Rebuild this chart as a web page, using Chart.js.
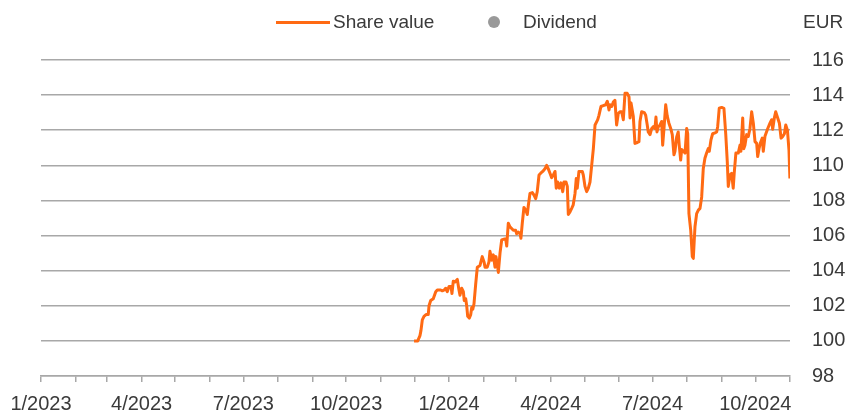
<!DOCTYPE html>
<html>
<head>
<meta charset="utf-8">
<title>Share value</title>
<script src="https://cdn.jsdelivr.net/npm/chart.js@4.4.1/dist/chart.umd.min.js"></script>
<style>
    html, body { margin: 0; padding: 0; background: #fff; }
    #wrap { position: relative; width: 849px; height: 412px; font-family: "Liberation Sans", Arial, sans-serif; color: #3a3a3a; font-size: 19px; }
    #chart { position: absolute; left: 0; top: 0; }
    .lg { position: absolute; top: 11px; line-height: 22px; white-space: nowrap; }
    .lg-line { position: absolute; left: 276px; top: 21px; width: 54px; height: 3px; background: #ff6a13; }
    .lg-dot { position: absolute; left: 488px; top: 16px; width: 12px; height: 12px; border-radius: 50%; background: #999; }
</style>
</head>
<body>
<div id="wrap">
    <canvas id="chart" width="849" height="412"></canvas>
    <div class="lg-line"></div>
    <div class="lg" style="left:333px">Share value</div>
    <div class="lg-dot"></div>
    <div class="lg" style="left:523px">Dividend</div>
    <div class="lg" style="left:803px">EUR</div>
</div>
<script>
// ---------------- DATA ----------------
// x = days since 1 Jan 2023
const days = [
    333.7, 337.0, 339.0, 339.9, 341.1, 342.6, 344.4, 346.4, 347.1, 348.6,
    350.9, 353.1, 354.5, 357.5, 359.0, 360.8, 362.0, 363.4, 365.0, 366.8,
    367.6, 368.8, 370.3, 372.4, 373.9, 374.8, 376.3, 377.8, 378.6, 379.9,
    380.8, 381.7, 383.1, 384.4, 385.3, 386.2, 387.3, 388.8, 390.3, 392.7,
    394.7, 396.3, 397.2, 399.2, 400.7, 401.6, 403.2, 404.6, 406.1, 407.0,
    408.5, 409.1, 410.6, 412.1, 414.2, 415.7, 416.6, 418.0, 419.5, 421.0,
    422.5, 424.6, 425.5, 427.0, 428.5, 429.3, 430.5, 432.0, 433.6, 435.0,
    435.9, 437.4, 439.5, 441.0, 442.5, 443.9, 445.5, 447.0, 448.8, 450.8,
    452.3, 453.8, 455.3, 456.8, 458.3, 459.8, 460.9, 462.2, 463.6, 465.1,
    466.7, 467.8, 469.6, 470.8, 471.7, 473.2, 474.7, 476.1, 477.7, 478.8,
    479.7, 481.2, 484.2, 485.1, 486.6, 488.1, 489.6, 491.1, 492.6, 494.1,
    495.6, 498.0, 499.1, 500.9, 503.0, 505.1, 506.6, 508.1, 509.0, 510.5,
    511.9, 513.4, 514.9, 516.4, 517.9, 519.4, 520.9, 522.4, 524.4, 526.0,
    526.9, 527.8, 529.8, 531.3, 533.4, 534.9, 535.8, 537.3, 539.7, 540.9,
    542.3, 543.2, 544.8, 546.3, 547.7, 549.2, 550.1, 551.0, 552.2, 553.7,
    555.2, 556.1, 557.3, 558.8, 560.2, 561.7, 563.3, 564.7, 566.2, 567.1,
    568.6, 570.0, 570.9, 572.2, 573.1, 574.5, 576.1, 577.6, 578.5, 579.6,
    581.2, 582.6, 583.5, 585.0, 586.5, 588.0, 589.5, 591.0, 592.4, 593.9,
    595.4, 596.9, 597.8, 599.3, 600.8, 602.9, 604.4, 605.3, 606.7, 608.9,
    610.9, 612.5, 613.9, 614.8, 616.3, 617.8, 619.2, 620.1, 621.6, 623.7,
    625.3, 626.1, 627.7, 628.6, 629.7, 631.2, 632.7, 634.2, 635.7, 637.2,
    638.7, 640.2, 641.1, 642.3, 643.4, 645.2, 646.1, 647.6, 650.1, 652.1,
    653.6, 654.5, 656.0, 657.2, 659.0, 660.5, 662.0, 663.5, 665.0, 666.2,
    667.7, 669.1, 669.9
];

const shareValue = [
    100.0, 100.0, 100.3, 100.6, 101.2, 101.4, 101.5, 101.5, 102.0, 102.3,
    102.4, 102.8, 102.9, 102.9, 102.85, 102.9, 103.0, 102.8, 103.1, 103.1,
    102.7, 103.4, 103.35, 103.5, 102.9, 102.6, 103.0, 102.8, 102.3, 102.4,
    102.0, 101.4, 101.3, 101.5, 101.9, 101.8, 102.1, 103.2, 104.2, 104.3,
    104.8, 104.5, 104.2, 104.2, 104.5, 105.1, 104.6, 104.9, 104.2, 104.8,
    104.2, 103.9, 105.0, 105.75, 105.8, 105.8, 105.4, 106.7, 106.5, 106.4,
    106.3, 106.3, 106.1, 106.2, 106.1, 105.85, 106.7, 107.6, 107.45, 107.2,
    107.7, 108.4, 108.45, 108.3, 108.1, 108.5, 109.45, 109.55, 109.65, 109.8,
    110.0, 109.8, 109.55, 109.3, 109.45, 109.65, 108.7, 109.05, 108.7, 109.0,
    108.5, 109.05, 109.05, 108.8, 107.2, 107.35, 107.55, 107.75, 108.4, 109.25,
    108.7, 109.65, 109.65, 109.45, 108.8, 108.5, 108.7, 109.05, 110.0, 110.95,
    112.3, 112.6, 112.85, 113.35, 113.4, 113.45, 113.65, 113.15, 113.45, 113.35,
    113.6, 113.7, 112.3, 112.95, 113.05, 113.05, 112.6, 114.1, 114.1, 113.9,
    112.7, 113.55, 112.8, 111.25, 111.3, 111.35, 112.5, 113.05, 113.0, 112.85,
    112.3, 111.9, 111.75, 112.1, 112.2, 112.1, 112.75, 111.9, 112.2, 112.3,
    112.5, 111.15, 112.1, 113.45, 112.8, 112.4, 112.1, 111.75, 110.6, 110.8,
    111.6, 111.9, 111.15, 110.3, 110.9, 110.8, 110.7, 112.1, 111.8, 107.25,
    106.3, 104.8, 104.7, 106.5, 107.25, 107.45, 107.55, 108.2, 109.8, 110.4,
    110.7, 110.95, 110.8, 111.45, 111.8, 111.85, 111.9, 112.2, 113.25, 113.3,
    113.25, 111.8, 110.2, 108.8, 109.45, 109.55, 108.7, 109.55, 110.7, 110.7,
    111.15, 110.8, 112.7, 110.95, 111.15, 111.75, 111.65, 112.1, 113.05, 112.4,
    111.35, 111.25, 110.5, 110.95, 111.25, 111.55, 110.8, 111.65, 112.1, 112.4,
    112.6, 112.05, 112.7, 113.05, 112.7, 112.4, 111.55, 111.65, 111.8, 112.3,
    112.0, 110.85, 109.25
];

// no dividend points visible in the period
const dividend = [];

// one tick per month, Jan 2023 .. Nov 2024, labels every quarter
const monthCount = 23;
const quarterLabels = ["1/2023", "4/2023", "7/2023", "10/2023", "1/2024", "4/2024", "7/2024", "10/2024"];
const yTicks = [98, 100, 102, 104, 106, 108, 110, 112, 114, 116];

// ---------------- HELPERS ----------------
const DAY = 86400000;
const start = Date.UTC(2023, 0, 1);
let monthTicks = [];
for (let m = 0; m < monthCount; m++) {
    monthTicks.push((Date.UTC(2023, m, 1) - start) / DAY);
}

const gridColor = "#a8a8a8";
const textColor = "#3a3a3a";
const font = { family: "Liberation Sans, Arial, sans-serif", size: 20 };

// ---------------- CHART ----------------
new Chart(document.getElementById("chart"), {
    type: "line",
    data: {
        datasets: [{
            label: "Share value",
            data: days.map((d, i) => ({ x: d, y: shareValue[i] })),
            borderColor: "#ff6a13",
            backgroundColor: "#ff6a13",
            borderWidth: 3,
            pointRadius: 0,
            tension: 0,
            borderJoinStyle: "round"
        }, {
            label: "Dividend",
            data: dividend,
            showLine: false,
            pointRadius: 6,
            backgroundColor: "#999",
            borderColor: "#999"
        }]
    },
    options: {
        responsive: false,
        animation: false,
        devicePixelRatio: 1,
        layout: { padding: { top: 60, left: 41, right: 0, bottom: 0 } },
        plugins: {
            legend: { display: false },
            tooltip: { enabled: false }
        },
        scales: {
            x: {
                type: "linear",
                min: 0,
                max: monthTicks[monthTicks.length - 1],
                afterBuildTicks: scale => {
                    scale.ticks = monthTicks.map(v => ({ value: v }));
                },
                afterFit: scale => { scale.height = 36; },
                grid: {
                    drawOnChartArea: false,
                    drawTicks: true,
                    tickLength: 6,
                    color: gridColor,
                    lineWidth: 1.5
                },
                border: { display: true, color: gridColor, width: 1.5 },
                ticks: {
                    autoSkip: false,
                    maxRotation: 0,
                    padding: 10,
                    color: textColor,
                    font: font,
                    callback: (value, index) => index % 3 === 0 ? quarterLabels[index / 3] : ""
                }
            },
            y: {
                position: "right",
                min: 98,
                max: 116,
                afterBuildTicks: scale => {
                    scale.ticks = yTicks.map(v => ({ value: v }));
                },
                afterFit: scale => { scale.width = 59; },
                grid: {
                    drawTicks: false,
                    color: gridColor,
                    lineWidth: 1.5
                },
                border: { display: false },
                ticks: {
                    padding: 22,
                    color: textColor,
                    font: font
                }
            }
        }
    }
});
</script>
</body>
</html>
